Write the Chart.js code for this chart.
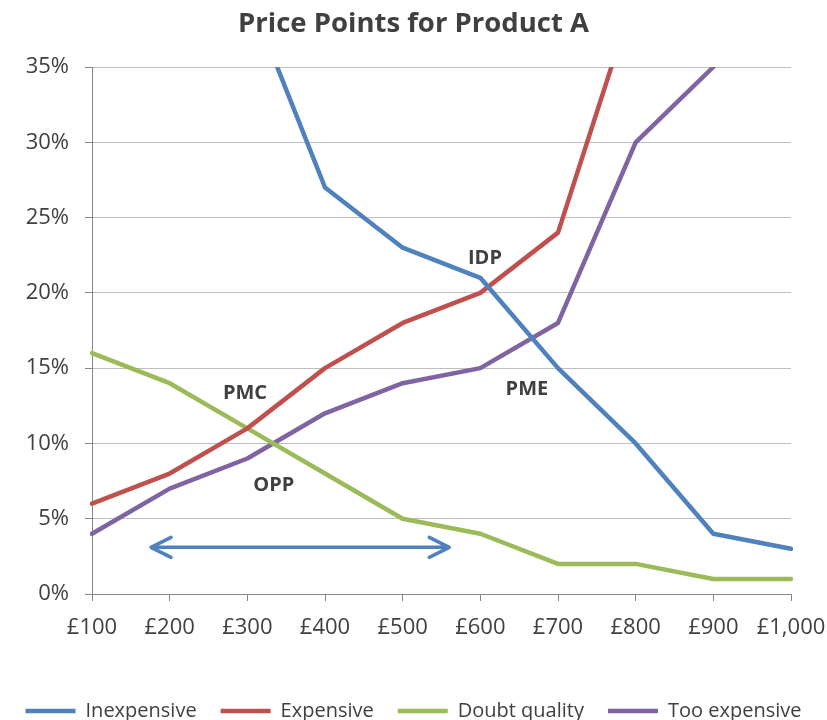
<!DOCTYPE html>
<html>
<head>
<meta charset="utf-8">
<title>Price Points for Product A</title>
<script src="https://cdn.jsdelivr.net/npm/chart.js@4.4.1/dist/chart.umd.min.js"></script>
<style>
  html, body { margin: 0; padding: 0; background: #ffffff; }
  #wrap { width: 827px; height: 720px; }
</style>
</head>
<body>
<div id="wrap"><canvas id="chart" width="827" height="720"></canvas></div>
<script>
// Price levels asked about in the survey
const prices = ['£100', '£200', '£300', '£400', '£500', '£600', '£700', '£800', '£900', '£1,000'];

// Share of respondents (%) for each question, by price
const inexpensive   = [60, 50, 40, 27, 23, 21, 15, 10, 4, 3];
const expensive     = [6, 8, 11, 15, 18, 20, 24, 40, 50, 60];
const doubtQuality  = [16, 14, 11, 8, 5, 4, 2, 2, 1, 1];
const tooExpensive  = [4, 7, 9, 12, 14, 15, 18, 30, 35, 45];

// Y axis range and step (%)
const yMin = 0, yMax = 35, yStep = 5;

// Intersection labels: [text, price index, percent]
const pointLabels = [
  ['PMC', 1.97, 13.3],
  ['OPP', 2.34, 7.2],
  ['IDP', 5.06, 22.3],
  ['PME', 5.6, 13.6]
];

// Acceptable price range arrow: from / to price index, at percent
const rangeArrow = { from: 0.76, to: 4.6, at: 3.1 };

const TEXT = '#404040';
const FONT = "'Open Sans', 'DejaVu Sans', sans-serif";

const annotations = {
  id: 'annotations',
  afterDatasetsDraw(chart) {
    const { ctx, scales: { x, y } } = chart;
    ctx.save();
    // labels
    ctx.fillStyle = TEXT;
    ctx.font = 'bold 20px ' + FONT;
    ctx.textAlign = 'center';
    ctx.textBaseline = 'middle';
    pointLabels.forEach(([t, xi, v]) => {
      ctx.fillText(t, x.getPixelForValue(xi), y.getPixelForValue(v));
    });
    // double-headed arrow
    const x1 = x.getPixelForValue(rangeArrow.from);
    const x2 = x.getPixelForValue(rangeArrow.to);
    const ya = y.getPixelForValue(rangeArrow.at);
    ctx.strokeStyle = '#4F81BD';
    ctx.lineWidth = 3.5;
    ctx.lineCap = 'round';
    ctx.lineJoin = 'round';
    ctx.beginPath();
    ctx.moveTo(x1, ya); ctx.lineTo(x2, ya);
    ctx.moveTo(x1 + 20, ya - 10); ctx.lineTo(x1, ya); ctx.lineTo(x1 + 20, ya + 10);
    ctx.moveTo(x2 - 20, ya - 10); ctx.lineTo(x2, ya); ctx.lineTo(x2 - 20, ya + 10);
    ctx.stroke();
    ctx.restore();
  }
};

function series(label, data, color) {
  return {
    label, data,
    borderColor: color,
    backgroundColor: color,
    borderWidth: 4.5,
    borderCapStyle: 'round',
    borderJoinStyle: 'round',
    pointRadius: 0,
    pointHoverRadius: 0,
    tension: 0,
    pointStyle: 'line'
  };
}

new Chart(document.getElementById('chart'), {
  type: 'line',
  data: {
    labels: prices,
    datasets: [
      series('Inexpensive', inexpensive, '#4F81BD'),
      series('Expensive', expensive, '#C0504D'),
      series('Doubt quality', doubtQuality, '#9BBB59'),
      series('Too expensive', tooExpensive, '#8064A2')
    ]
  },
  options: {
    responsive: false,
    animation: false,
    events: [],
    layout: { padding: { left: 0, right: 0, top: 0, bottom: -11 } },
    plugins: {
      title: {
        display: true,
        text: 'Price Points for Product A',
        color: TEXT,
        font: { family: FONT, size: 27.5, weight: 'bold' },
        padding: { top: 8, bottom: 26 }
      },
      legend: {
        position: 'bottom',
        labels: {
          color: TEXT,
          font: { family: FONT, size: 20 },
          usePointStyle: true,
          pointStyleWidth: 50,
          padding: 24
        }
      },
      tooltip: { enabled: false }
    },
    scales: {
      x: {
        offset: false,
        grid: { display: true, drawOnChartArea: false, color: '#868686', tickLength: 7 },
        border: { color: '#868686', width: 1 },
        ticks: { color: TEXT, font: { family: FONT, size: 22 }, padding: 14, maxRotation: 0, autoSkip: false },
        afterFit(s) {
          s.height = 83;
          s.paddingLeft = 0;
          s.paddingRight = 36;
        }
      },
      y: {
        min: yMin, max: yMax,
        grid: { color: '#BFBFBF', tickLength: 7, tickColor: '#868686' },
        border: { color: '#868686', width: 1 },
        ticks: {
          stepSize: yStep,
          color: TEXT,
          font: { family: FONT, size: 22 },
          padding: 16,
          callback: v => v + '%'
        },
        afterFit(s) { s.width = 92; }
      }
    }
  },
  plugins: [annotations]
});
</script>
</body>
</html>
